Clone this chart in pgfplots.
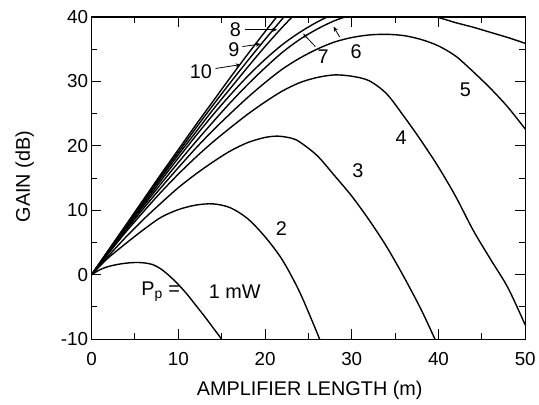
\documentclass[border=0pt]{standalone}
\usepackage{fontspec}
\setmainfont{Liberation Sans}
\usepackage{pgfplots}
\pgfplotsset{compat=1.18}
\usetikzlibrary{arrows.meta}
\pgfplotsset{gaincurve/.style={black, solid, line width=1.4bp, no markers, smooth}}
\begin{document}
\begin{tikzpicture}
\begin{axis}[
  scale only axis, width=436bp, height=324bp,
  xmin=0, xmax=50, ymin=-10, ymax=40,
  xtick={0,10,20,30,40,50}, ytick={-10,0,10,20,30,40},
  xticklabels={0,10,20,30,40,50}, yticklabels={-10,0,10,20,30,40},
  major tick length=0pt,
  axis line style={line width=1.2bp, black},
  tick label style={font=\fontsize{19}{19}\selectfont},
  xticklabel style={yshift=-10bp},
  label style={font=\fontsize{20}{20}\selectfont},
  xlabel={AMPLIFIER LENGTH (m)}, ylabel={GAIN (dB)},
  xlabel style={at={(axis description cs:0.503,-0.16)}, anchor=center},
  ylabel style={at={(axis description cs:-0.154,0.505)}, anchor=center},
]
% P_p = 1 mW
\addplot[gaincurve] coordinates {(0,0) (1,0.8) (2,1.3) (3,1.6) (4,1.8) (5,1.9) (6,1.85) (7,1.6) (8,0.9) (9,-0.2) (10,-1.5) (11,-3.0) (12,-4.7) (13,-6.4) (14,-8.2) (15,-10) (15.5,-11)};
% 2 mW
\addplot[gaincurve] coordinates {(0,0) (1,1.4) (2,2.7) (4,4.9) (6,7.0) (8,8.9) (10,10.1) (12,10.8) (14,11) (16,10.4) (18,8.7) (20,5.9) (22,2.3) (24,-2.7) (26,-9) (26.5,-10.7)};
% 3 mW
\addplot[gaincurve] coordinates {(0,0) (1,1.5) (2,3) (4,5.9) (6,8.6) (8,11.1) (10,13.5) (12,15.6) (14,17.5) (16,19.2) (18,20.5) (20,21.3) (21.5,21.5) (23,21.2) (24,20.6) (26,18.5) (28,15.4) (30,12.2) (32,8.5) (34,4.4) (36,-0.3) (38,-5.4) (39.6,-10) (40,-11)};
% 4 mW
\addplot[gaincurve] coordinates {(0,0) (1,1.7) (2,3.4) (4,6.7) (6,9.8) (8,12.8) (10,15.6) (12,18.2) (14,20.6) (16,22.8) (18,24.9) (20,26.8) (22,28.5) (24,29.8) (26,30.6) (28,31) (30,30.8) (32,30.1) (34,28.1) (36,24.6) (38,20.8) (40,16.7) (42,12.1) (44,6.9) (46,2.4) (48,-2.0) (50,-7.8)};
% 5 mW
\addplot[gaincurve] coordinates {(0,0) (1,1.75) (2,3.5) (4,7) (6,10.3) (8,13.5) (10,16.6) (12,19.6) (14,22.4) (16,25) (18,27.5) (20,29.8) (22,31.9) (24,33.6) (26,35) (28,36.1) (30,36.8) (32,37.2) (34,37.3) (36,37.1) (38,36.5) (40,35.5) (42,33.9) (44,31.5) (46,28.9) (48,26) (50,22.6)};
% 6 mW
\addplot[gaincurve] coordinates {(0,0) (1,1.8) (2,3.6) (4,7.2) (6,10.7) (8,14.1) (10,17.4) (12,20.6) (14,23.7) (16,26.7) (18,29.5) (20,32.1) (22,34.5) (24,36.5) (26,38.1) (28,39.4) (30,40.3) (32,40.8) (34,41) (36,40.9) (38,40.5) (40,39.9) (42,39.1) (44,38.4) (46,37.6) (48,36.8) (50,35.9)};
% 7 mW
\addplot[gaincurve] coordinates {(0,0) (1,1.85) (2,3.7) (4,7.4) (6,11) (8,14.6) (10,18.1) (12,21.5) (14,24.8) (16,27.9) (18,30.8) (20,33.4) (22,35.7) (24,37.6) (26,39.2) (28,40.5) (30,41.5) (32,42.2)};
% 8 mW
\addplot[gaincurve] coordinates {(0,0) (1,1.9) (2,3.8) (4,7.6) (6,11.3) (8,15) (10,18.6) (12,22.1) (14,25.6) (16,28.9) (18,32.2) (20,35.4) (22,38.4) (24,41.2) (26,43.8)};
% 9 mW
\addplot[gaincurve] coordinates {(0,0) (1,1.93) (2,3.86) (4,7.7) (6,11.5) (8,15.3) (10,19) (12,22.7) (14,26.3) (16,29.8) (18,33.2) (20,36.5) (22,39.7) (24,42.8)};
% 10 mW
\addplot[gaincurve] coordinates {(0,0) (1,1.96) (2,3.92) (4,7.8) (6,11.7) (8,15.6) (10,19.4) (12,23.2) (14,26.9) (16,30.6) (18,34.2) (20,37.7) (22,41.1) (24,44.4)};

% tick marks, inward on all four sides (lengths in data units: 10bp and 6bp)
\pgfplotsinvokeforeach{10,20,30,40}{
  \draw[line width=1bp] (axis cs:#1,-10) -- (axis cs:#1,-8.457);
  \draw[line width=1bp] (axis cs:#1,40) -- (axis cs:#1,38.457);
}
\pgfplotsinvokeforeach{5,15,25,35,45}{
  \draw[line width=1bp] (axis cs:#1,-10) -- (axis cs:#1,-9.074);
  \draw[line width=1bp] (axis cs:#1,40) -- (axis cs:#1,39.074);
}
\pgfplotsinvokeforeach{0,10,20,30}{
  \draw[line width=1bp] (axis cs:0,#1) -- (axis cs:1.147,#1);
  \draw[line width=1bp] (axis cs:50,#1) -- (axis cs:48.853,#1);
}
\pgfplotsinvokeforeach{-5,5,15,25,35}{
  \draw[line width=1bp] (axis cs:0,#1) -- (axis cs:0.688,#1);
  \draw[line width=1bp] (axis cs:50,#1) -- (axis cs:49.312,#1);
}

\begin{scope}[font=\fontsize{20}{20}\selectfont]
\node at (axis cs:7.97,-2.6) {P\textsubscript{p} =};
\node at (axis cs:16.5,-2.6) {1 mW};
\node at (axis cs:21.9,7.1) {2};
\node at (axis cs:30.7,16.1) {3};
\node at (axis cs:35.7,21.3) {4};
\node at (axis cs:43.1,28.7) {5};
\node at (axis cs:30.5,34.6) {6};
\node at (axis cs:26.7,33.8) {7};
\node at (axis cs:16.6,38) {8};
\node at (axis cs:16.4,34.9) {9};
\node at (axis cs:12.6,31.5) {10};
\end{scope}
\draw[line width=0.8bp, -{Stealth[length=5bp,width=4bp]}] (axis cs:17.7,38) -- (axis cs:21.4,38);
\draw[line width=0.8bp, -{Stealth[length=5bp,width=4bp]}] (axis cs:17.4,35.4) -- (axis cs:19.5,35.8);
\draw[line width=0.8bp, -{Stealth[length=5bp,width=4bp]}] (axis cs:14.3,32.0) -- (axis cs:17.2,32.6);
\draw[line width=0.8bp, -{Stealth[length=5bp,width=4bp]}] (axis cs:25.8,35.4) -- (axis cs:24.4,37.4);
\draw[line width=0.8bp, -{Stealth[length=5bp,width=4bp]}] (axis cs:28.6,36.9) -- (axis cs:27.9,38.5);
\end{axis}
\path ([shift={(-92bp,-66bp)}]current axis.south west) rectangle ([shift={(11bp,17bp)}]current axis.north east);
\end{tikzpicture}
\end{document}
